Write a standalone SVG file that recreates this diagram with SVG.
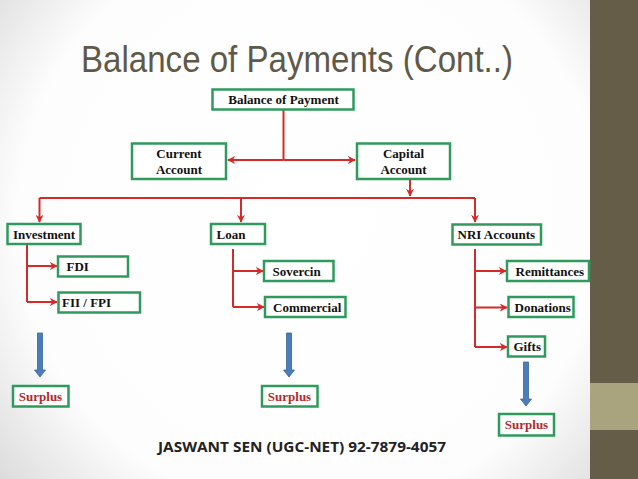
<svg xmlns="http://www.w3.org/2000/svg" width="638" height="479" viewBox="0 0 638 479">
<defs>
<radialGradient id="bg" cx="310" cy="220" r="430" gradientUnits="userSpaceOnUse">
<stop offset="0" stop-color="#ffffff"/>
<stop offset="0.68" stop-color="#fdfdfd"/>
<stop offset="1" stop-color="#d4d4d4"/>
</radialGradient>
<marker id="ah" viewBox="0 0 10 10" refX="9" refY="5" markerWidth="8" markerHeight="8" markerUnits="userSpaceOnUse" orient="auto">
<path d="M0,0 L10,5 L0,10 L3,5 z" fill="#d42a2a"/>
</marker>
<style>
.box{fill:#ffffff;stroke:#2f9a5c;stroke-width:2.5}
.t{font-family:"Liberation Serif","Times New Roman",serif;font-weight:bold;font-size:13px;fill:#111}
.tc{text-anchor:middle}
.sp{fill:#b22a2a}
.ln{fill:none;stroke:#d42a2a;stroke-width:2}
.ar{marker-end:url(#ah)}
.blue{fill:#4a7ebb;stroke:#3b6496;stroke-width:0.8}
</style>
</defs>
<rect x="0" y="0" width="638" height="479" fill="url(#bg)"/>
<rect x="590" y="0" width="48" height="479" fill="#665d48"/>
<rect x="590" y="383" width="48" height="47" fill="#a9a47e"/>
<text x="81" y="72" font-family="'Liberation Sans',Arial,sans-serif" font-size="37" fill="#5f5948" textLength="432" lengthAdjust="spacingAndGlyphs">Balance of Payments (Cont..)</text>

<g id="connectors">
<path class="ln" d="M283.5,110 V160"/>
<path class="ln ar" d="M283.5,160 H228"/>
<path class="ln ar" d="M283.5,160 H355"/>
<path class="ln ar" d="M410,180 V196"/>
<path class="ln" d="M39.5,198 H475"/>
<path class="ln ar" d="M39.5,198 V222"/>
<path class="ln ar" d="M241,198 V222"/>
<path class="ln ar" d="M475,198 V222"/>
<path class="ln" d="M27,245 V302"/>
<path class="ln ar" d="M27,266 H57"/>
<path class="ln ar" d="M27,302 H57"/>
<path class="ln" d="M233,249 V307"/>
<path class="ln ar" d="M233,271 H263"/>
<path class="ln ar" d="M233,307 H264"/>
<path class="ln" d="M475,249 V347"/>
<path class="ln ar" d="M475,271 H506"/>
<path class="ln ar" d="M475,307.5 H507"/>
<path class="ln ar" d="M475,347 H507"/>
<path class="blue" d="M37.5,333 H42.5 V370 H45.5 L40,377 L34.5,370 H37.5 z"/>
<path class="blue" d="M286.5,333 H291.5 V370 H294.5 L289,377 L283.5,370 H286.5 z"/>
<path class="blue" d="M523.5,362 H528.5 V399 H531.5 L526,406 L520.5,399 H523.5 z"/>
</g>

<g id="bop"><rect class="box" x="212.5" y="89.5" width="141" height="20"/><text class="t tc" x="283.5" y="103.5" font-size="13.5">Balance of Payment</text></g>
<g id="current"><rect class="box" x="132" y="143.5" width="94" height="35.5"/><text class="t tc" x="179" y="157.5">Current</text><text class="t tc" x="179" y="173.5">Account</text></g>
<g id="capital"><rect class="box" x="357" y="143.5" width="93" height="35.5"/><text class="t tc" x="403.5" y="157.5">Capital</text><text class="t tc" x="403.5" y="173.5">Account</text></g>

<g id="investment"><rect class="box" x="7.5" y="224" width="73" height="20"/><text class="t" x="13" y="238.5" font-size="12">Investment</text></g>
<g id="fdi"><rect class="box" x="58" y="256.5" width="70" height="20"/><text class="t" x="66.5" y="271" font-size="12">FDI</text></g>
<g id="fii"><rect class="box" x="58.5" y="292.5" width="81.5" height="20"/><text class="t" x="62" y="307" font-size="12">FII / FPI</text></g>

<g id="loan"><rect class="box" x="211" y="224" width="54" height="20"/><text class="t" x="216.5" y="238.5" font-size="12">Loan</text></g>
<g id="sovercin"><rect class="box" x="264" y="261" width="69.5" height="20"/><text class="t" x="272.5" y="275.5" font-size="12">Sovercin</text></g>
<g id="commercial"><rect class="box" x="265" y="297" width="80.5" height="20"/><text class="t" x="273" y="311.5" font-size="12">Commercial</text></g>

<g id="nri"><rect class="box" x="452.5" y="224.5" width="88.5" height="20"/><text class="t" x="457.5" y="238.5" font-size="12">NRI Accounts</text></g>
<g id="remittances"><rect class="box" x="507" y="261" width="82" height="20"/><text class="t" x="515.5" y="275.5" font-size="12">Remittances</text></g>
<g id="donations"><rect class="box" x="508.5" y="297" width="65" height="20"/><text class="t" x="514.5" y="311.5" font-size="12">Donations</text></g>
<g id="gifts"><rect class="box" x="508" y="336.5" width="37" height="20"/><text class="t" x="513.5" y="351" font-size="12">Gifts</text></g>

<g id="surplus1"><rect class="box" x="13" y="386" width="55.5" height="20.5"/><text class="t tc sp" x="40.5" y="400.5" font-size="12">Surplus</text></g>
<g id="surplus2"><rect class="box" x="262" y="386" width="55.5" height="20.5"/><text class="t tc sp" x="289.5" y="400.5" font-size="12">Surplus</text></g>
<g id="surplus3"><rect class="box" x="499" y="414" width="55" height="21.5"/><text class="t tc sp" x="526.5" y="429" font-size="12">Surplus</text></g>

<text x="158" y="451.5" font-family="'Open Sans','Liberation Sans',sans-serif" font-weight="bold" font-size="15" fill="#222" textLength="288" lengthAdjust="spacingAndGlyphs">JASWANT SEN (UGC-NET) 92-7879-4057</text>
</svg>
